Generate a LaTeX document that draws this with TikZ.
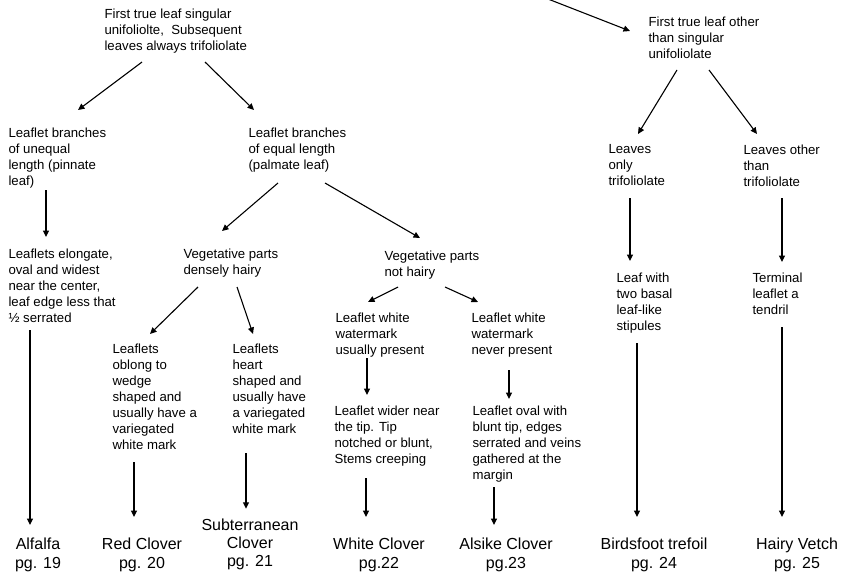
\documentclass[tikz,border=0pt]{standalone}
\usepackage{fontspec}
\setmainfont{Liberation Sans}
\usepackage{tikz}
\usetikzlibrary{positioning}
\usetikzlibrary{arrows.meta}

\begin{document}
\begin{tikzpicture}[x=1pt,y=1pt,>={Triangle[length=6.5pt,width=6pt]},line width=1.1pt,
                    key node/.style={inner sep=0pt,align=left,font=\fontsize{13.2}{16}\selectfont},
                    clover node/.style={inner sep=0pt,align=center,font=\fontsize{16}{19.5}\selectfont}]
  \path[use as bounding box,fill=white] (0,0) rectangle (842,-571);
  % Nodes
  \node[key node,anchor=north west] (first1) at (104,-8) {First true leaf singular\\unifoliolte, \ Subsequent\\leaves always trifoliolate};
  \node[key node] (unequal) [below right=119pt and -96pt of first1.north west] {Leaflet branches\\of unequal\\length (pinnate\\leaf)};
  \node[key node] (equal) [below right=119pt and 144pt of first1.north west] {Leaflet branches\\of equal length\\(palmate leaf)};
  \node[key node] (elongate) [below right=121pt and 0pt of unequal.north west] {Leaflets elongate,\\oval and widest\\near the center,\\leaf edge less that\\½ serrated};
  \node[key node] (dense) [below right=121pt and -65pt of equal.north west] {Vegetative parts\\densely hairy};
  \node[key node] (nothairy) [below right=123pt and 136pt of equal.north west] {Vegetative parts\\not hairy};
  \node[key node] (oblong) [below right=95pt and -71pt of dense.north west] {Leaflets\\oblong to\\wedge\\shaped and\\usually have a\\variegated\\white mark};
  \node[key node] (heart) [below right=95pt and 49pt of dense.north west] {Leaflets\\heart\\shaped and\\usually have\\a variegated\\white mark};
  \node[key node] (wmusual) [below right=62pt and -49pt of nothairy.north west] {Leaflet white\\watermark\\usually present};
  \node[key node] (wmnever) [below right=62pt and 87pt of nothairy.north west] {Leaflet white\\watermark\\never present};
  \node[key node] (wider) [below right=93pt and -1pt of wmusual.north west] {Leaflet wider near\\the tip. Tip\\notched or blunt,\\Stems creeping};
  \node[key node] (ovalwith) [below right=93pt and 1pt of wmnever.north west] {Leaflet oval with\\blunt tip, edges\\serrated and veins\\gathered at the\\margin};

  \node[key node,anchor=north west] (first2) at (648,-16) {First true leaf other\\than singular\\unifoliolate};
  \node[key node] (only) [below right=128pt and -40pt of first2.north west] {Leaves\\only\\trifoliolate};
  \node[key node] (other) [below right=128pt and 95pt of first2.north west] {Leaves other\\than\\trifoliolate};
  \node[key node] (stipules) [below right=128pt and 8pt of only.north west] {Leaf with\\two basal\\leaf-like\\stipules};
  \node[key node] (tendril) [below right=128pt and 9pt of other.north west] {Terminal\\leaflet a\\tendril};

  \node[clover node,anchor=north] (alfalfa) at (38,-537) {Alfalfa\\pg. 19};
  \node[clover node] (redclover) [right of = alfalfa, node distance=104pt] {Red Clover\\pg. 20};
  \node[clover node,font=\fontsize{16}{18}\selectfont] (subclover) [right of = redclover, node distance=108pt, yshift=10pt] {Subterranean\\Clover\\pg. 21};
  \node[clover node] (whiteclover) [right of = redclover, node distance=237pt] {White Clover\\pg.22};
  \node[clover node] (alsike) [right of = whiteclover, node distance=127pt] {Alsike Clover\\pg.23};
  \node[clover node] (birdsfoot) [right of = alsike, node distance=148pt] {Birdsfoot trefoil\\pg. 24};
  \node[clover node] (vetch) [right of = birdsfoot, node distance=143pt] {Hairy Vetch\\pg. 25};

  \coordinate (top) at (548,1);

  % Edges
  \draw[->] (top) -- ([shift={(-18,-15)}]first2.north west);
  \draw[->] ([shift={(38,-54)}]first1.north west) -- ([shift={(70,17)}]unequal.north west);
  \draw[->] ([shift={(101,-54)}]first1.north west) -- ([shift={(6,17)}]equal.north west);
  \draw[->] ([shift={(38,-63)}]unequal.north west) -- ([shift={(38,11)}]elongate.north west);
  \draw[->] ([shift={(30,-56)}]equal.north west) -- ([shift={(39,17)}]dense.north west);
  \draw[->] ([shift={(77,-56)}]equal.north west) -- ([shift={(36,12)}]nothairy.north west);
  \draw[->] ([shift={(15,-39)}]dense.north west) -- ([shift={(38,9)}]oblong.north west);
  \draw[->] ([shift={(54,-39)}]dense.north west) -- ([shift={(21,9)}]heart.north west);
  \draw[->] ([shift={(14,-37)}]nothairy.north west) -- ([shift={(33,10)}]wmusual.north west);
  \draw[->] ([shift={(61,-37)}]nothairy.north west) -- ([shift={(7,10)}]wmnever.north west);
  \draw[->] ([shift={(32,-46)}]wmusual.north west) -- ([shift={(33,10)}]wider.north west);
  \draw[->] ([shift={(38,-58)}]wmnever.north west) -- ([shift={(37,6)}]ovalwith.north west);
  \draw[->] ([shift={(29,-54)}]first2.north west) -- ([shift={(30,10)}]only.north west);
  \draw[->] ([shift={(61,-54)}]first2.north west) -- ([shift={(14,10)}]other.north west);
  \draw[->] ([shift={(22,-54)}]only.north west) -- ([shift={(14,11)}]stipules.north west);
  \draw[->] ([shift={(39,-54)}]other.north west) -- ([shift={(30,10)}]tendril.north west);

  \draw[->] ([shift={(22,-82)}]elongate.north west) -- ([shift={(-8,12)}]alfalfa.north);
  \draw[->] ([shift={(22,-119)}]oblong.north west) -- ([shift={(-8,20)}]redclover.north);
  \draw[->] ([shift={(14,-110)}]heart.north west) -- ([shift={(-4,10)}]subclover.north);
  \draw[->] ([shift={(32,-73)}]wider.north west) -- ([shift={(-13,20)}]whiteclover.north);
  \draw[->] ([shift={(22,-82)}]ovalwith.north west) -- ([shift={(-12,12)}]alsike.north);
  \draw[->] ([shift={(21,-71)}]stipules.north west) -- ([shift={(-17,20)}]birdsfoot.north);
  \draw[->] ([shift={(30,-55)}]tendril.north west) -- ([shift={(-15,20)}]vetch.north);
\end{tikzpicture}
\end{document}
